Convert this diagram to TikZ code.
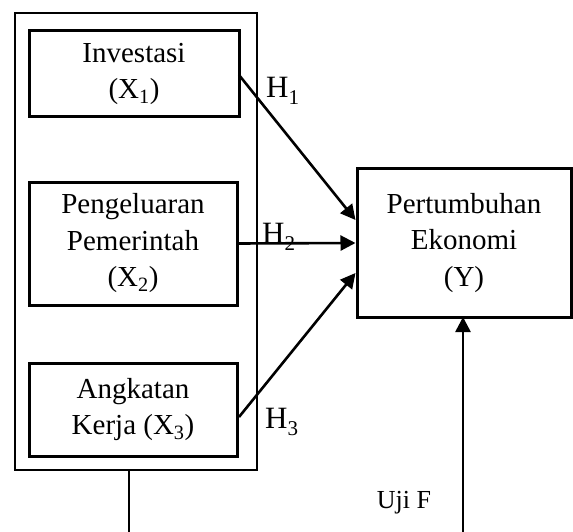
\documentclass[tikz,border=0pt]{standalone}
\usepackage{fontspec}
\setmainfont{Liberation Serif}
\usetikzlibrary{arrows.meta}
\newcommand{\hsub}[1]{H\raisebox{-7pt}{\fontsize{21}{21}\selectfont #1}}
\begin{document}
\begin{tikzpicture}[x=1pt,y=-1pt,
  varbox/.style={draw,line width=3pt,align=center,font=\fontsize{29}{36.5}\selectfont,inner sep=0pt},
  arr/.style={line width=2.6pt,-{Triangle[length=15pt,width=15pt]}},
  hlab/.style={font=\fontsize{31}{34}\selectfont,inner sep=0pt,anchor=base west}]
\useasboundingbox (0,0) rectangle (573,532);
\draw[line width=2pt] (15,13) rectangle (257,470);
\node[varbox,minimum width=210pt,minimum height=86pt] (x1) at (134,74) {Investasi\\(X\textsubscript{1})};
\node[varbox,minimum width=208pt,minimum height=123pt] (x2) at (133,243.5) {Pengeluaran\\Pemerintah\\(X\textsubscript{2})};
\node[varbox,minimum width=208pt,minimum height=93pt] (x3) at (133,409.5) {Angkatan\\Kerja (X\textsubscript{3})};
\node[varbox,minimum width=214pt,minimum height=148pt] (y) at (464,243) {Pertumbuhan\\Ekonomi\\(Y)};
\coordinate (c1) at (239,75);
\coordinate (c3) at (239,417);
\coordinate (outb) at (129,470);
\coordinate (outend) at (129,532);
\coordinate (ustart) at (463,532);
\coordinate (uend) at (463,317);
\draw[arr] (c1) -- ([yshift=23pt]y.west);
\draw[arr] (x2.east) -- (y.west);
\draw[arr] (c3) -- ([yshift=-30pt]y.west);
\draw[line width=2pt] (outb) -- (outend);
\draw[arr] (ustart) -- (uend);
\node[hlab] (h1) at (266,98) {\hsub{1}};
\node[hlab] (h2) at (262,243) {\hsub{2}};
\node[hlab] (h3) at (265,428) {\hsub{3}};
\node[font=\fontsize{26}{30}\selectfont,inner sep=0pt] (uji) at (404,503) {Uji F};
\end{tikzpicture}
\end{document}
